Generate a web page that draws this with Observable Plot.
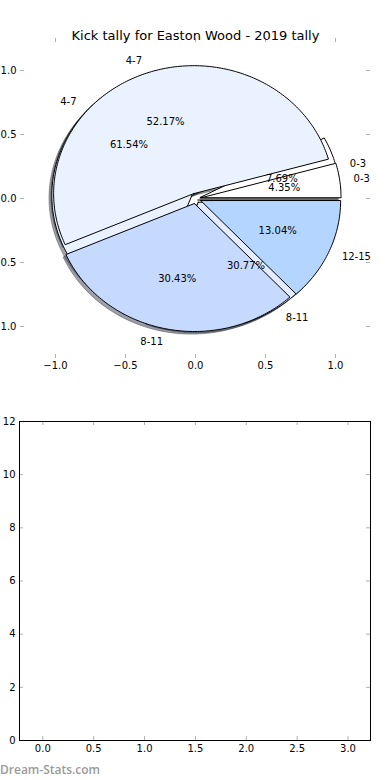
<!DOCTYPE html>
<html><head><meta charset="utf-8">
<script src="https://cdn.jsdelivr.net/npm/d3@7"></script>
<script src="https://cdn.jsdelivr.net/npm/@observablehq/plot@0.6"></script>
<style>
body{margin:0;background:#fff;}
#wrap{position:relative;width:390px;height:780px;overflow:hidden;background:#fff;}
#wrap svg{display:block;}
#wm{position:absolute;left:0;top:763px;font:600 12px/14px "Open Sans",sans-serif;color:#9a9a9a;white-space:nowrap;}
</style></head><body><div id="wrap"></div><script>
// ---- data ----
const title = "Kick tally for Easton Wood - 2019 tally";
const categoriesA = ["0-3", "4-7", "8-11", "12-15"];
const valuesA = [1, 12, 7, 3];
const categoriesB = ["0-3", "4-7", "8-11"];
const valuesB = [1, 8, 4];
const pieTicks = [-1, -0.5, 0, 0.5, 1];
const barXTicks = [0, 0.5, 1, 1.5, 2, 2.5, 3];
const barYTicks = [0, 2, 4, 6, 8, 10, 12];
const watermark = "Dream-Stats.com";

// ---- style ----
const colorsA = ["#ffffff", "#eaf2ff", "#c6d9ff", "#b3d5ff"];
const colorsB = ["#ffffff", "#eaf2ff", "#e4edff"];
const explodeA = [0.04, 0.04, 0.04, 0.04];
const explodeB = [0.035, 0.035, 0.035];
const tickGray = "#b0b0b0";
const font = "DejaVu Sans";

function wedges(cats, vals, colors, explode, pie) {
  const total = d3.sum(vals);
  let a = 0;
  return cats.map((c, i) => {
    const t1 = a, t2 = a + 360 * vals[i] / total;
    a = t2;
    const mid = (t1 + t2) / 2 * Math.PI / 180;
    return {pie, id: pie + i, cat: c, pct: 100 * vals[i] / total, t1, t2, mid,
      ex: explode[i] * Math.cos(mid), ey: explode[i] * Math.sin(mid), color: colors[i]};
  });
}
function outline(w, dx, dy, fill) {
  const cx = w.ex + dx, cy = w.ey + dy;
  const pts = [{id: w.id, x: cx, y: cy, fill}];
  const n = Math.max(2, Math.ceil(w.t2 - w.t1));
  for (let k = 0; k <= n; k++) {
    const t = (w.t1 + (w.t2 - w.t1) * k / n) * Math.PI / 180;
    pts.push({id: w.id, x: cx + Math.cos(t), y: cy + Math.sin(t), fill});
  }
  pts.push({id: w.id, x: cx, y: cy, fill});
  return pts;
}
const shade = c => { const r = d3.rgb(c); return d3.rgb(r.r * 0.3, r.g * 0.3, r.b * 0.3).formatHex(); };

const wA = wedges(categoriesA, valuesA, colorsA, explodeA, "A");
const wB = wedges(categoriesB, valuesB, colorsB, explodeB, "B");
const shadowPts = [...wB, ...wA].flatMap(w => outline(w, -0.02, -0.02, shade(w.color)));
const ptsB = wB.flatMap(w => outline(w, 0, 0, w.color));
const ptsA = wA.flatMap(w => outline(w, 0, 0, w.color));
const labels = [...wB, ...wA].map(w => ({
  text: w.cat,
  x: w.ex + 1.1 * Math.cos(w.mid), y: w.ey + 1.1 * Math.sin(w.mid)
}));
const pcts = [...wB, ...wA].map(w => ({
  text: w.pct.toFixed(2) + "%",
  x: w.ex + 0.6 * Math.cos(w.mid), y: w.ey + 0.6 * Math.sin(w.mid)
}));

const H1 = 400, mT1 = 38, mB1 = 42, mL1 = 20, mR1 = 20;
const fh1 = H1 - mT1 - mB1, fw1 = 390 - mL1 - mR1;
const f1 = d3.format(".1f");

const piePlot = Plot.plot({
  width: 390, height: H1,
  marginTop: mT1, marginBottom: mB1, marginLeft: mL1, marginRight: mR1,
  x: {domain: [-1.25, 1.25], label: null},
  y: {domain: [-1.25, 1.25], label: null},
  color: {type: "identity"},
  style: {fontFamily: font, fontSize: "10px", color: "black", background: "white", overflow: "visible"},
  marks: [
    Plot.line(shadowPts, {x: "x", y: "y", z: "id", fill: "fill", stroke: "fill", fillOpacity: 0.5, strokeOpacity: 0.5, strokeWidth: 1}),
    Plot.line(ptsB, {x: "x", y: "y", z: "id", fill: "fill", stroke: "black", strokeWidth: 1}),
    Plot.line(ptsA, {x: "x", y: "y", z: "id", fill: "fill", stroke: "black", strokeWidth: 1}),
    Plot.text(labels.filter(d => d.x > 0), {x: "x", y: "y", text: "text", textAnchor: "start", fontSize: 10}),
    Plot.text(labels.filter(d => d.x <= 0), {x: "x", y: "y", text: "text", textAnchor: "end", fontSize: 10}),
    Plot.text(pcts, {x: "x", y: "y", text: "text", textAnchor: "middle", fontSize: 10}),
    Plot.ruleX(pieTicks, {stroke: tickGray, insetBottom: fh1 - 4}),
    Plot.ruleX(pieTicks, {stroke: tickGray, insetTop: fh1 - 4}),
    Plot.ruleY(pieTicks, {stroke: tickGray, insetRight: fw1 - 4}),
    Plot.ruleY(pieTicks, {stroke: tickGray, insetLeft: fw1 - 4}),
    Plot.axisX(pieTicks, {anchor: "bottom", tickSize: 0, tickPadding: 3, tickFormat: f1, label: null, fontSize: 10}),
    Plot.axisY(pieTicks, {anchor: "left", tickSize: 0, tickPadding: 4, tickFormat: f1, label: null, fontSize: 10}),
    Plot.text([title], {text: d => d, frameAnchor: "top", dy: -8, fontSize: 13})
  ]
});

const H2 = 380, mT2 = 21, mB2 = 40, mL2 = 19, mR2 = 20;
const fh2 = H2 - mT2 - mB2, fw2 = 390 - mL2 - mR2;
const barPlot = Plot.plot({
  width: 390, height: H2,
  marginTop: mT2, marginBottom: mB2, marginLeft: mL2, marginRight: mR2,
  x: {domain: [-0.229, 3.221], label: null},
  y: {domain: [0, 12], label: null},
  style: {fontFamily: font, fontSize: "10px", color: "black", background: "white", overflow: "visible"},
  marks: [
    Plot.ruleX(barXTicks, {stroke: tickGray, insetBottom: fh2 - 4}),
    Plot.ruleX(barXTicks, {stroke: tickGray, insetTop: fh2 - 4}),
    Plot.ruleY(barYTicks, {stroke: tickGray, insetRight: fw2 - 4}),
    Plot.ruleY(barYTicks, {stroke: tickGray, insetLeft: fw2 - 4}),
    Plot.frame({stroke: "black", strokeWidth: 1}),
    Plot.axisX(barXTicks, {anchor: "bottom", tickSize: 0, tickPadding: 4, tickFormat: f1, label: null, fontSize: 10}),
    Plot.axisY(barYTicks, {anchor: "left", tickSize: 0, tickPadding: 4, tickFormat: d3.format("d"), label: null, fontSize: 10})
  ]
});

const wrap = document.getElementById("wrap");
wrap.appendChild(piePlot);
wrap.appendChild(barPlot);
const wm = document.createElement("div");
wm.id = "wm";
wm.textContent = watermark;
wrap.appendChild(wm);
</script></body></html>
